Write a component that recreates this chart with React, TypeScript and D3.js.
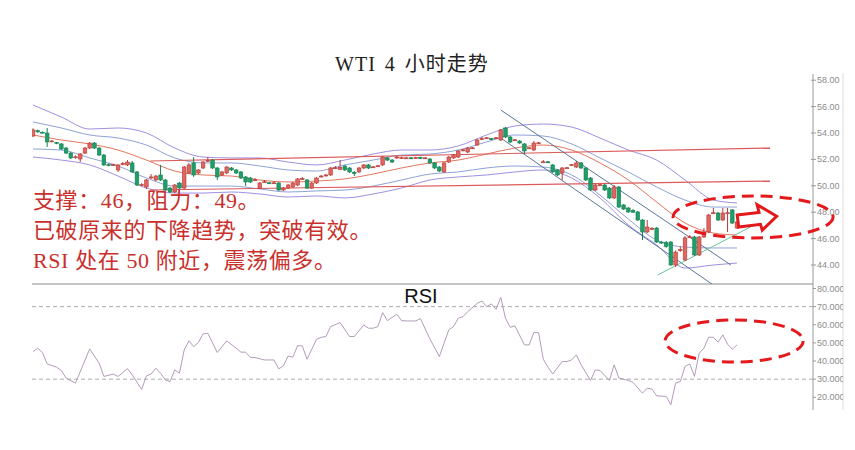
import React from "react";
import * as d3 from "d3";

// ---- chart text ----
const chartTitle = "WTI 4 小时走势";
const noteLines = [
  "支撑：46，阻力：49。",
  "已破原来的下降趋势，突破有效。",
  "RSI 处在 50 附近，震荡偏多。",
];
const priceTicks = [44, 46, 48, 50, 52, 54, 56, 58];
const rsiTicks = [20, 30, 40, 50, 60, 70, 80];
const rsiLevels = [70, 30];

// ---- 4h candles: [open, high, low, close] ----
const ohlc: [number, number, number, number][] = [
  [53.77, 54.35, 53.7, 54.23], [54.18, 54.25, 54.02, 54.08], [54.06, 54.12, 53.98, 54.04], [54.0, 54.38, 52.94, 53.32],
  [53.36, 53.47, 53.3, 53.4], [53.28, 53.32, 53.15, 53.22], [53.17, 53.24, 52.71, 52.79], [52.86, 52.94, 52.41, 52.48],
  [52.48, 52.56, 52.03, 52.11], [52.15, 52.3, 52.05, 52.2], [52.03, 52.48, 51.8, 52.41], [52.48, 52.94, 52.41, 52.86],
  [52.86, 53.32, 52.79, 53.24], [53.24, 53.32, 52.79, 52.86], [52.86, 52.94, 52.26, 52.33], [52.33, 52.41, 51.5, 51.58],
  [51.6, 51.7, 51.48, 51.55], [51.55, 51.68, 51.5, 51.6], [51.2, 51.65, 51.05, 51.58], [51.6, 51.8, 51.55, 51.7],
  [51.58, 51.95, 51.5, 51.8], [51.73, 51.88, 50.97, 51.05], [51.05, 51.12, 49.98, 50.06], [50.06, 50.2, 49.98, 50.1],
  [49.91, 50.52, 49.76, 50.44], [50.6, 50.89, 50.52, 50.67], [50.44, 50.82, 50.36, 50.74], [50.82, 51.58, 50.36, 50.44],
  [50.44, 50.52, 49.61, 49.68], [49.83, 49.91, 49.45, 49.53], [49.53, 50.14, 49.45, 50.06], [50.21, 50.29, 49.76, 49.83],
  [49.83, 51.5, 49.76, 51.42], [50.97, 51.73, 50.89, 51.58], [51.73, 52.18, 50.67, 50.82], [50.97, 51.27, 50.89, 51.2],
  [51.35, 51.88, 51.27, 51.8], [51.88, 52.18, 51.8, 51.92], [51.95, 52.03, 51.27, 51.35], [51.35, 51.42, 50.44, 50.67],
  [50.82, 51.12, 50.74, 51.05], [50.97, 51.5, 50.89, 51.42], [51.35, 51.42, 51.12, 51.2], [51.2, 51.27, 50.89, 50.97],
  [51.05, 51.12, 50.52, 50.59], [50.67, 50.74, 49.98, 50.29], [50.59, 50.67, 50.21, 50.29], [50.42, 50.59, 50.36, 50.46],
  [49.83, 50.29, 49.76, 50.21], [50.27, 50.44, 50.21, 50.31], [50.23, 50.29, 50.14, 50.19], [50.19, 50.36, 50.14, 50.23],
  [50.21, 50.29, 49.61, 49.68], [49.68, 49.91, 49.61, 49.83], [49.83, 50.14, 49.76, 50.06], [49.91, 50.29, 49.83, 50.21],
  [50.06, 50.59, 49.98, 50.52], [50.5, 50.67, 50.44, 50.54], [50.44, 50.52, 49.76, 49.83], [49.83, 50.29, 49.76, 50.21],
  [50.21, 50.67, 50.14, 50.59], [50.7, 50.82, 50.64, 50.74], [50.78, 50.89, 50.7, 50.82], [50.82, 51.42, 50.74, 51.35],
  [51.33, 51.5, 51.27, 51.37], [51.25, 51.95, 51.2, 51.4], [51.5, 51.58, 51.12, 51.2], [51.35, 51.42, 50.97, 51.05],
  [51.02, 51.12, 50.74, 50.92], [51.05, 51.42, 50.97, 51.35], [51.35, 51.65, 51.27, 51.58], [51.58, 51.65, 51.27, 51.35],
  [51.4, 51.5, 51.35, 51.44], [51.48, 51.58, 51.42, 51.52], [51.58, 52.26, 51.5, 52.18], [52.11, 52.18, 51.88, 51.95],
  [51.95, 52.03, 51.73, 51.8], [52.11, 52.26, 52.03, 52.18], [52.09, 52.2, 52.03, 52.13], [52.11, 52.2, 52.05, 52.12],
  [52.12, 52.18, 52.03, 52.1], [52.09, 52.2, 52.03, 52.13], [52.15, 52.2, 52.03, 52.08], [52.09, 52.18, 52.03, 52.12],
  [52.03, 52.11, 51.65, 51.73], [51.73, 51.8, 51.27, 51.35], [51.42, 51.5, 51.05, 51.12], [51.05, 51.8, 50.97, 51.73],
  [51.8, 52.26, 51.73, 52.18], [52.11, 52.41, 52.03, 52.33], [52.18, 52.71, 52.11, 52.64], [52.68, 52.79, 52.6, 52.73],
  [52.56, 52.94, 52.48, 52.86], [52.84, 52.94, 52.79, 52.88], [53.09, 53.55, 53.02, 53.47], [53.53, 53.7, 53.47, 53.57],
  [53.6, 53.7, 53.55, 53.64], [53.57, 53.62, 53.47, 53.53], [53.6, 53.7, 53.55, 53.64], [53.47, 54.3, 53.39, 54.23],
  [54.38, 54.45, 53.62, 53.7], [53.7, 53.77, 53.24, 53.32], [53.45, 53.55, 53.39, 53.49], [53.39, 53.47, 53.17, 53.24],
  [53.17, 53.24, 52.41, 52.64], [52.84, 52.94, 52.79, 52.88], [52.71, 53.39, 52.64, 53.24], [53.22, 53.32, 53.17, 53.26],
  [51.78, 51.95, 51.73, 51.82], [51.82, 51.88, 51.73, 51.78], [51.58, 51.65, 50.97, 51.05], [51.2, 51.27, 50.74, 50.82],
  [50.97, 51.42, 50.44, 51.35], [51.33, 51.42, 51.27, 51.37], [51.56, 51.65, 51.5, 51.6], [51.42, 51.88, 51.35, 51.73],
  [51.73, 51.8, 51.27, 51.35], [51.35, 51.42, 50.36, 50.44], [50.59, 50.67, 49.61, 49.68], [49.68, 50.14, 49.61, 50.06],
  [50.04, 50.14, 49.98, 50.08], [50.06, 50.14, 49.61, 49.68], [49.83, 49.91, 49.0, 49.08], [49.08, 50.06, 49.0, 49.91],
  [49.91, 49.98, 48.32, 48.39], [48.55, 48.62, 48.17, 48.24], [48.32, 48.39, 47.94, 48.02], [48.12, 48.24, 47.94, 48.0],
  [48.02, 48.09, 47.33, 47.41], [47.41, 47.48, 45.89, 46.5], [46.5, 47.41, 46.42, 46.88], [46.75, 46.88, 46.65, 46.78],
  [46.8, 46.88, 45.67, 45.74], [45.74, 45.82, 45.6, 45.69], [45.7, 45.82, 45.3, 45.4], [45.74, 45.82, 43.95, 44.0],
  [44.0, 45.1, 43.85, 44.98], [45.1, 45.4, 45.0, 45.16], [44.38, 46.2, 44.3, 46.05], [46.1, 46.27, 46.05, 46.14],
  [46.12, 46.2, 44.68, 44.76], [44.76, 46.2, 44.68, 46.12], [46.12, 46.8, 46.05, 46.5], [46.5, 47.86, 46.42, 47.79],
  [47.92, 48.32, 47.86, 47.96], [47.94, 48.02, 47.33, 47.41], [47.41, 48.32, 47.33, 47.94], [47.92, 48.32, 46.5, 47.96],
  [48.17, 48.24, 47.1, 47.18], [46.8, 47.33, 46.73, 47.26],
];

// ---- band lines, read every 6th candle ----
const bandIndex = [0, 6, 12, 18, 24, 30, 36, 42, 48, 54, 60, 66, 72, 78, 84, 90, 96, 102, 108, 114, 120, 126, 132, 138, 144, 149];
const maLine = [53.85, 53.47, 53.17, 52.71, 51.95, 51.12, 50.82, 50.74, 50.44, 50.29, 50.36, 50.52, 50.89, 51.35, 51.73, 51.95, 52.41, 52.86, 53.09, 52.71, 51.73, 50.44, 48.77, 47.18, 46.42, 46.27];
const upperOuter = [56.12, 55.21, 54.3, 54.38, 54.0, 52.86, 52.18, 52.11, 52.11, 51.8, 51.58, 51.95, 52.41, 52.71, 52.71, 53.02, 53.85, 54.53, 54.68, 54.45, 53.62, 52.71, 51.95, 50.44, 48.92, 48.7];
const upperInner = [54.83, 54.38, 53.85, 53.62, 53.09, 52.11, 51.73, 51.73, 51.5, 51.2, 51.12, 51.58, 51.95, 52.33, 52.41, 52.71, 53.32, 53.85, 53.77, 53.17, 52.11, 51.05, 49.91, 48.92, 48.39, 48.39];
const lowerInner = [52.79, 52.71, 52.11, 51.5, 50.59, 49.98, 49.98, 49.98, 49.76, 49.53, 49.61, 49.68, 49.98, 50.44, 50.89, 51.05, 51.35, 51.5, 51.42, 50.82, 49.3, 47.48, 45.89, 45.36, 45.29, 45.29];
const lowerOuter = [52.18, 51.95, 51.58, 50.74, 49.83, 49.45, 49.45, 49.53, 49.38, 49.15, 49.23, 49.08, 49.38, 49.83, 50.44, 50.67, 50.82, 51.05, 51.2, 50.59, 49.08, 47.03, 45.52, 43.77, 44.0, 44.15];

// ---- drawn trend lines: [candle index, price] ----
const resistTop: [number, number][] = [[24.8, 51.88], [156, 52.86]];
const resistBottom: [number, number][] = [[24.8, 49.68], [156, 50.36]];
const downLineA: [number, number][] = [[99, 53.62], [144, 42.48]];
const downLineB: [number, number][] = [[99, 55.74], [147.7, 44.0]];
const supportLine: [number, number][] = [[132.2, 43.24], [154.7, 47.41]];

// ---- RSI vertices: [candle index, value] ----
const rsiPoints: [number, number][] = [
  [0, 45.2], [1, 47.1], [2, 44.7], [3, 38.4], [5, 36.6], [6, 34.8], [7, 30.6], [9, 27.8], [12, 46.7], [14, 38.8],
  [15, 31.5], [17, 32.8], [18, 31.5], [20, 35.8], [21, 32.4], [23, 24.3], [24, 31.8], [25, 32.9], [26, 36], [27, 33.3],
  [28, 29.6], [29, 28.7], [30, 35.1], [31, 33.3], [32, 46.1], [33, 51.1], [34, 48], [35, 50.2], [36, 55], [37, 55.3],
  [39, 44.7], [41, 51.1], [43, 47.1], [44, 44.9], [45, 44.9], [46, 42.1], [47, 41.9], [49, 40.6], [50, 40.6], [51, 40.6],
  [52, 35.7], [53, 37.3], [54, 42.8], [55, 42.1], [56, 48.5], [57, 48.3], [58, 41], [60, 52], [61, 53.1], [62, 53.5],
  [63, 59], [65, 61.2], [67, 53.5], [68, 53.5], [70, 59.9], [71, 58.1], [72, 58.1], [73, 59], [74, 66.7], [75, 62.3],
  [77, 65.8], [78, 62.3], [79, 62.1], [81, 62.1], [82, 63.4], [84, 52.2], [86, 42.5], [88, 57.2], [89, 59], [90, 63.6],
  [91, 64.5], [92, 67.2], [94, 71.8], [95, 73.1], [96, 70], [97, 71.5], [98, 68.5], [99, 75.1], [100, 63.6], [101, 58.6],
  [102, 59.4], [104, 48.9], [105, 48.9], [106, 55.7], [107, 55.7], [108, 41], [109, 36.6], [110, 32.9], [112, 39.7], [113, 39.7],
  [114, 40.6], [115, 43.4], [116, 37.9], [118, 29.3], [119, 35.1], [120, 34.8], [122, 29.3], [123, 37.9], [124, 30.6], [126, 29.3],
  [127, 28.2], [129, 22.3], [130, 25], [131, 24.5], [132, 20.8], [134, 20.5], [135, 15.9], [136, 27.8], [137, 28.7], [138, 37],
  [139, 38.4], [140, 31.5], [141, 44.3], [142, 47.1], [143, 53.1], [144, 53.1], [145, 50.4], [146, 54.4], [147, 49.3], [148, 46.5],
  [149, 48.9],
];

const UP = { fill: "#e0675f", stroke: "#b53a36" };
const DOWN = { fill: "#1f9f68", stroke: "#177e52" };
const NOTE_RED = "#c9302c";
const MARK_RED = "#e3191c";
const SERIF = "'Liberation Serif', 'Noto Sans CJK SC', serif";
const SANS = "'Liberation Sans', Arial, sans-serif";

export default function App() {
  const left = 32, axisX = 813, borderX = 843;
  const mainTop = 74, mainBottom = 284, rsiBottom = 410;

  const x = d3.scaleLinear().domain([0, ohlc.length - 1]).range([33, 737]);
  const y = d3.scaleLinear().domain([44, 58]).range([265, 80.2]);
  const yr = d3.scaleLinear().domain([20, 80]).range([397.3, 288.5]);
  const bodyW = 3.6;

  const band = (vals: number[]) =>
    d3.line<number>().x((_, i) => x(bandIndex[i])).y((v) => y(v)).curve(d3.curveMonotoneX)(vals) || "";
  const seg = (pts: [number, number][]) =>
    d3.line<[number, number]>().x((d) => x(d[0])).y((d) => y(d[1]))(pts) || "";
  const rsiPath = d3.line<[number, number]>().x((d) => x(d[0])).y((d) => yr(d[1]))(rsiPoints) || "";

  // annotation anchors
  const ell1 = { cx: x(152.4), cy: y(47.64) };
  const ell2 = { cx: x(148.4), cy: yr(51.05) };
  const arrowAt = { x: x(149.2), y: y(47.33) };

  return (
    <svg width={855} height={450} style={{ position: "absolute", left: 0, top: 0, background: "#fff" }}>
      <defs>
        <clipPath id="mainClip">
          <rect x={left} y={mainTop} width={axisX - left} height={mainBottom - mainTop} />
        </clipPath>
        <clipPath id="labelClip">
          <rect x={axisX} y={0} width={borderX - axisX} height={450} />
        </clipPath>
      </defs>

      <text x={412} y={71} textAnchor="middle" fontSize={20} letterSpacing={1} wordSpacing={3}
        fontFamily={SERIF} fill="#222">{chartTitle}</text>

      {/* frame */}
      <line x1={left} x2={axisX} y1={mainBottom} y2={mainBottom} stroke="#8a8a8a" strokeWidth={1} />
      <line x1={axisX} x2={axisX} y1={mainTop} y2={rsiBottom} stroke="#9a9a9a" strokeWidth={1} />
      <line x1={borderX} x2={borderX} y1={mainTop - 1} y2={rsiBottom} stroke="#dcdcdc" strokeWidth={1} />

      <g clipPath="url(#mainClip)" fill="none">
        <path d={band(upperOuter)} stroke="#a08fe0" strokeWidth={1} />
        <path d={band(lowerOuter)} stroke="#a08fe0" strokeWidth={1} />
        <path d={band(upperInner)} stroke="#8ea2d6" strokeWidth={1} />
        <path d={band(lowerInner)} stroke="#8ea2d6" strokeWidth={1} />
        <path d={band(maLine)} stroke="#e2765c" strokeWidth={1} />
        <path d={seg(resistTop)} stroke="#dc5a5a" strokeWidth={1.2} />
        <path d={seg(resistBottom)} stroke="#dc5a5a" strokeWidth={1.2} />
        <path d={seg(downLineA)} stroke="#58769a" strokeWidth={1} />
        <path d={seg(downLineB)} stroke="#58769a" strokeWidth={1} />
        <path d={seg(supportLine)} stroke="#6cc49a" strokeWidth={1} />

        {ohlc.map(([o, h, l, c], i) => {
          const col = c >= o ? UP : DOWN;
          const cx = x(i);
          const top = y(Math.max(o, c));
          const bh = Math.max(1, y(Math.min(o, c)) - top);
          return (
            <g key={i}>
              <line x1={cx} x2={cx} y1={y(h)} y2={y(l)} stroke={col.stroke} strokeWidth={1} />
              <rect x={cx - bodyW / 2} y={top} width={bodyW} height={bh} fill={col.fill} stroke={col.stroke} strokeWidth={0.6} />
            </g>
          );
        })}
      </g>

      {/* price axis */}
      {priceTicks.map((t) => (
        <g key={t}>
          <line x1={axisX - 2} x2={axisX + 3} y1={y(t)} y2={y(t)} stroke="#9a9a9a" />
          <text x={axisX + 4} y={y(t) + 3} fontSize={9} fill="#8c8c8c" fontFamily={SANS}>
            {t.toFixed(2)}
          </text>
        </g>
      ))}

      {/* RSI panel */}
      <text x={421} y={303} textAnchor="middle" fontSize={20} fill="#111" fontFamily={SANS}>RSI</text>
      {rsiLevels.map((lv) => (
        <line key={lv} x1={left} x2={axisX} y1={yr(lv)} y2={yr(lv)} stroke="#ababab" strokeWidth={1} strokeDasharray="4 3" />
      ))}
      <path d={rsiPath} fill="none" stroke="#b39bb8" strokeWidth={1} />
      <g clipPath="url(#labelClip)">
        {rsiTicks.map((t) => (
          <g key={t}>
            <line x1={axisX - 2} x2={axisX + 3} y1={yr(t)} y2={yr(t)} stroke="#9a9a9a" />
            <text x={axisX + 4} y={yr(t) + 3} fontSize={9} fill="#8c8c8c" fontFamily={SANS}>
              {t.toFixed(4)}
            </text>
          </g>
        ))}
      </g>

      {/* annotations */}
      {noteLines.map((s, i) => (
        <text key={i} x={33} y={208 + i * 30} fontSize={22} letterSpacing={0.6} fill={NOTE_RED}
          fontFamily={SERIF}>{s}</text>
      ))}
      <ellipse cx={ell1.cx} cy={ell1.cy} rx={80} ry={21} fill="none" stroke={MARK_RED} strokeWidth={3} strokeDasharray="12 7" />
      <ellipse cx={ell2.cx} cy={ell2.cy} rx={69} ry={21} fill="none" stroke={MARK_RED} strokeWidth={3} strokeDasharray="12 7" />
      <g transform={`translate(${arrowAt.x},${arrowAt.y}) rotate(-7)`}>
        <polygon points="0,-6 22,-6 21,-14 39,0 23,12 22,6 0,6" fill="#fff" stroke={MARK_RED} strokeWidth={3} strokeLinejoin="miter" />
      </g>
    </svg>
  );
}
